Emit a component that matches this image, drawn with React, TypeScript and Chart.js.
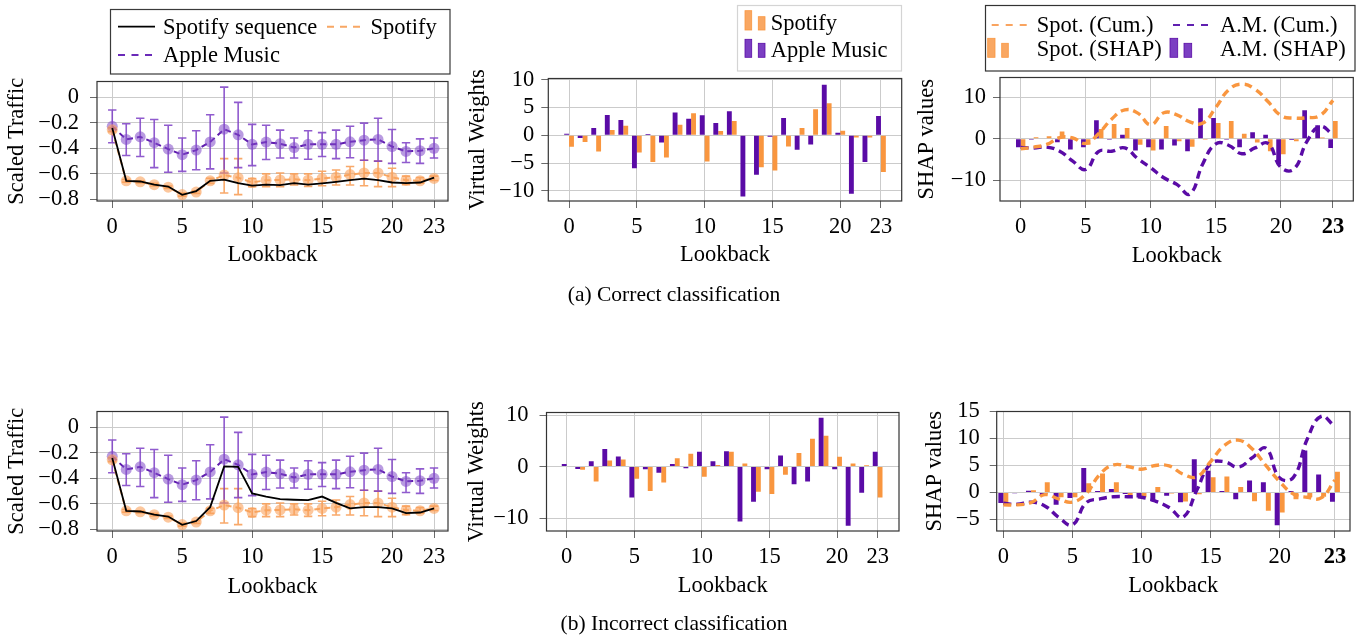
import React, { useEffect, useRef } from 'react';
import { Chart, registerables } from 'chart.js';

Chart.register(...registerables);

const FONT = "'Liberation Serif', 'Times New Roman', Times, serif";
const FS = 22.5;
const LH = FS * 1.2;
Chart.defaults.font.family = FONT;
Chart.defaults.font.size = FS;
Chart.defaults.color = '#000';

// ---------------- data ----------------
const lookback = [0, 1, 2, 3, 4, 5, 6, 7, 8, 9, 10, 11, 12, 13, 14, 15, 16, 17, 18, 19, 20, 21, 22, 23];
const shapIdx = [0, 1, 2, 3, 4, 5, 6, 7, 8, 9, 10, 11, 12, 13, 14, 15, 16, 17, 18, 19, 20, 21, 22, 23, 24];

const xTickPos = [0, 5, 10, 15, 20, 23];
const xTickLabels = ['0', '5', '10', '15', '20', '23'];
const shapXTickPos = [0, 5, 10, 15, 20, 24];
const shapXTickLabels = ['0', '5', '10', '15', '20', '23'];

const trafficTicks = [-0.8, -0.6, -0.4, -0.2, 0];
const vwTicksTop = [-10, -5, 0, 5, 10];
const vwTicksBottom = [-10, 0, 10];
const shapTicksTop = [-10, 0, 10];
const shapTicksBottom = [-5, 0, 5, 10, 15];

// Scaled traffic: class means and error bars
const amMean = [-0.227, -0.33, -0.31, -0.356, -0.406, -0.45, -0.414, -0.35, -0.25, -0.294, -0.369, -0.351, -0.364, -0.394, -0.369, -0.369, -0.369, -0.349, -0.336, -0.33, -0.386, -0.424, -0.419, -0.40];
const amLow = [-0.356, -0.456, -0.464, -0.551, -0.588, -0.581, -0.568, -0.561, -0.593, -0.551, -0.536, -0.488, -0.476, -0.476, -0.486, -0.464, -0.481, -0.474, -0.493, -0.50, -0.518, -0.511, -0.518, -0.476];
const amHigh = [-0.10, -0.207, -0.164, -0.174, -0.219, -0.319, -0.262, -0.137, 0.08, -0.04, -0.212, -0.219, -0.257, -0.319, -0.262, -0.277, -0.257, -0.227, -0.202, -0.164, -0.252, -0.356, -0.326, -0.319];

const spMean = [-0.255, -0.655, -0.663, -0.685, -0.705, -0.763, -0.743, -0.655, -0.61, -0.63, -0.668, -0.65, -0.648, -0.643, -0.65, -0.636, -0.626, -0.606, -0.593, -0.593, -0.626, -0.65, -0.655, -0.636];
const spLow = [-0.27, -0.665, -0.672, -0.695, -0.715, -0.775, -0.753, -0.675, -0.75, -0.763, -0.70, -0.70, -0.70, -0.688, -0.698, -0.693, -0.688, -0.688, -0.693, -0.70, -0.70, -0.686, -0.673, -0.652];
const spHigh = [-0.24, -0.645, -0.654, -0.675, -0.695, -0.751, -0.733, -0.635, -0.481, -0.481, -0.636, -0.60, -0.593, -0.60, -0.60, -0.58, -0.57, -0.543, -0.493, -0.50, -0.556, -0.618, -0.63, -0.618];

const seqCorrect = [-0.24, -0.655, -0.66, -0.685, -0.70, -0.765, -0.735, -0.655, -0.645, -0.673, -0.693, -0.685, -0.688, -0.673, -0.685, -0.675, -0.663, -0.65, -0.638, -0.65, -0.668, -0.673, -0.668, -0.63];
const seqIncorrect = [-0.24, -0.655, -0.66, -0.685, -0.70, -0.765, -0.735, -0.626, -0.307, -0.31, -0.518, -0.543, -0.563, -0.568, -0.571, -0.543, -0.593, -0.636, -0.626, -0.626, -0.636, -0.673, -0.668, -0.636];

// Virtual weights
const vwAMCorrect = [0.3, -0.47, 1.3, 3.65, 2.75, -5.9, 0.25, -1.3, 4.1, 2.95, 3.6, 2.2, 4.3, -11.0, -7.1, -0.25, 3.1, -2.6, -1.65, 9.1, 0.45, -10.5, -4.8, 3.45];
const vwSpCorrect = [-2.05, -1.2, -2.9, 0.95, 1.7, -3.1, -4.8, -4.0, 1.9, 3.95, -4.7, 0.75, 2.55, 0.1, -5.75, -6.3, -2.0, 1.3, 4.7, 5.75, 0.8, -0.4, -0.4, -6.6];
const vwAMIncorrect = [0.5, -0.45, 1.05, 3.4, 1.95, -6.0, -0.5, -1.2, 0.5, -0.3, 2.9, 1.05, 3.0, -10.65, -6.8, -0.5, 2.15, -3.45, -2.9, 9.5, -0.5, -11.5, -5.1, 2.9];
const vwSpIncorrect = [-0.1, -0.6, -2.9, 1.2, 1.4, -2.35, -4.75, -3.1, 1.6, 2.5, -1.95, 0.3, 2.9, 0.6, -4.9, -5.3, -1.6, 2.65, 5.4, 6.0, 1.9, 0.6, 0.25, -6.0];

// SHAP values
const shapAMCorrect = [-2.05, -0.2, 0.15, -0.8, -2.6, -2.05, 4.5, -0.2, 1.0, -2.8, -2.05, -2.6, -1.6, -3.0, 7.4, 5.0, -0.2, -2.05, 1.6, 1.0, -6.1, -0.3, 6.9, 3.3, -2.2];
const shapSpCorrect = [-2.4, 0.4, 0.65, 1.8, -0.2, -1.4, 2.4, 3.6, 2.6, -1.4, -2.8, 3.1, -0.6, -1.9, -0.2, 3.8, 4.3, 1.2, -0.9, -3.0, -3.7, -0.6, 0.2, 0.3, 4.3];
const cumSpCorrect = [-2.4, -2.0, -1.35, 0.3, 0.2, -1.1, 1.3, 4.8, 7.0, 6.2, 3.4, 6.3, 5.8, 4.1, 3.8, 7.6, 11.9, 13.2, 12.0, 9.0, 5.6, 5.0, 5.1, 5.6, 9.3];
const cumAMCorrect = [-2.05, -2.2, -2.0, -3.0, -5.4, -7.4, -3.0, -3.0, -2.2, -4.8, -7.0, -9.4, -11.0, -13.3, -6.0, -1.2, -1.6, -3.6, -2.2, -1.1, -6.9, -7.3, -0.6, 3.0, 1.0];

const shapAMIncorrect = [-1.95, -0.15, 0.3, -0.65, -2.3, -1.05, 4.55, 0.25, 0.65, -0.3, -0.95, -1.45, -0.6, -1.8, 6.15, 4.0, 0.25, -1.25, 2.2, 1.9, -6.1, 0.25, 7.75, 3.3, -1.75];
const shapSpIncorrect = [-2.3, -0.1, 0.4, 1.9, -0.9, -0.9, 1.7, 3.5, 1.9, -0.5, -0.9, 1.0, -0.2, -1.7, -0.35, 2.8, 2.95, 1.0, -1.65, -3.4, -3.7, -1.25, -0.9, -0.8, 3.85];
const cumSpIncorrect = [-2.3, -2.3, -1.9, -0.4, -1.2, -1.8, -0.2, 3.4, 5.1, 4.8, 4.3, 5.0, 4.9, 3.4, 2.9, 5.7, 8.7, 9.7, 8.1, 5.0, 2.0, -0.3, -0.9, -1.0, 2.3];
const cumAMIncorrect = [-2.0, -2.2, -1.8, -2.5, -4.6, -6.0, -1.9, -1.2, -0.8, -0.8, -0.9, -1.6, -2.8, -4.6, 0.4, 5.3, 5.7, 4.7, 6.4, 8.2, 2.7, 2.8, 9.9, 14.1, 12.2];

// ---------------- styles ----------------
const PURPLE = '#5a0ba6';
const ORANGE = '#f9963f';
const GRID = '#cbcbcb';
const TICKC = '#6a6a6a';
const TL = 7;

type G = {
  L: number; T: number; R: number; B: number; yTitleX: number; xTitleY: number; yPad: number;
  cx: number; cy: number; cw: number; ch: number; cr: number; cb: number;
};

function geom(p: { L: number; T: number; R: number; B: number; yTitleX: number; xTitleY: number; yPad: number }): G {
  const cx = Math.max(0, Math.floor(p.yTitleX - 16));
  const cy = Math.floor(p.T - 18);
  const cr = Math.min(1367, Math.ceil(p.R + 12));
  const cb = Math.ceil(p.xTitleY + 16);
  return { ...p, cx, cy, cr, cb, cw: cr - cx, ch: cb - cy };
}

const g1 = geom({ L: 97, T: 75.7, R: 448, B: 201, yTitleX: 16.7, xTitleY: 255, yPad: 11 });
const g2 = geom({ L: 548.3, T: 76.5, R: 901.7, B: 201, yTitleX: 478.3, xTitleY: 255, yPad: 7 });
const g3 = geom({ L: 1000, T: 75.7, R: 1353.3, B: 201, yTitleX: 926.7, xTitleY: 256, yPad: 7 });
const g4 = geom({ L: 97, T: 405.7, R: 448, B: 531, yTitleX: 16.7, xTitleY: 587, yPad: 11 });
const g5 = geom({ L: 546.5, T: 406.7, R: 899, B: 531, yTitleX: 477.5, xTitleY: 586, yPad: 11 });
const g6 = geom({ L: 996.7, T: 406, R: 1350, B: 531, yTitleX: 935, xTitleY: 586, yPad: 10 });

const fmtDec = (v: number) => (v === 0 ? '0' : (v < 0 ? '\u2212' : '') + Math.abs(v).toFixed(1));
const fmtInt = (v: number) => (v < 0 ? '\u2212' : '') + String(Math.abs(Math.round(v)));

function xAxis(g: G, min: number, max: number, pos: number[], labels: string[], boldVal?: number) {
  return {
    type: 'linear', min, max, offset: false,
    grid: { color: GRID, lineWidth: 1, drawTicks: true, tickLength: TL, tickColor: TICKC, offset: false },
    border: { display: false },
    ticks: {
      padding: 6, maxRotation: 0, minRotation: 0, autoSkip: false, color: '#000',
      font: (ctx: any) => ({ family: FONT, size: FS, weight: boldVal !== undefined && ctx.tick && ctx.tick.value === boldVal ? 'bold' : 'normal' }),
      callback: (v: any) => { const i = pos.indexOf(Number(v)); return i >= 0 ? labels[i] : ''; },
    },
    afterBuildTicks: (s: any) => { s.ticks = pos.map((v) => ({ value: v })); },
    afterFit: (s: any) => { s.height = g.cb - g.B; },
    title: { display: true, text: 'Lookback', color: '#000', font: { family: FONT, size: FS }, padding: { top: 0, bottom: g.cb - g.xTitleY - LH / 2 } },
  };
}

function yAxis(g: G, min: number, max: number, ticks: number[], fmt: (v: number) => string, title: string) {
  return {
    type: 'linear', min, max,
    grid: { color: GRID, lineWidth: 1, drawTicks: true, tickLength: TL, tickColor: TICKC },
    border: { display: false },
    ticks: { padding: g.yPad, autoSkip: false, color: '#000', font: { family: FONT, size: FS }, callback: (v: any) => fmt(Number(v)) },
    afterBuildTicks: (s: any) => { s.ticks = ticks.map((v) => ({ value: v })); },
    afterFit: (s: any) => { s.width = g.L - g.cx; },
    title: { display: true, text: title, color: '#000', font: { family: FONT, size: FS }, padding: { top: g.yTitleX - g.cx - LH / 2, bottom: 0 } },
  };
}

const framePlugin = {
  id: 'frame',
  afterDatasetsDraw(chart: any) {
    const { ctx, chartArea: a } = chart;
    ctx.save();
    ctx.strokeStyle = '#333';
    ctx.lineWidth = 1.2;
    ctx.strokeRect(a.left, a.top, a.right - a.left, a.bottom - a.top);
    ctx.restore();
  },
};

function errorBars(specs: { xs: number[]; low: number[]; high: number[]; color: string }[]) {
  return {
    id: 'errorBars',
    beforeDatasetsDraw(chart: any) {
      const { ctx, scales } = chart;
      const xs = scales.x, ys = scales.y;
      ctx.save();
      ctx.lineWidth = 1.6;
      for (const s of specs) {
        ctx.strokeStyle = s.color;
        s.xs.forEach((xv, i) => {
          const px = xs.getPixelForValue(xv);
          const p1 = ys.getPixelForValue(s.low[i]);
          const p2 = ys.getPixelForValue(s.high[i]);
          ctx.beginPath();
          ctx.moveTo(px, p1); ctx.lineTo(px, p2);
          ctx.moveTo(px - 4.2, p1); ctx.lineTo(px + 4.2, p1);
          ctx.moveTo(px - 4.2, p2); ctx.lineTo(px + 4.2, p2);
          ctx.stroke();
        });
      }
      ctx.restore();
    },
  };
}

function baseOptions(g: G, scales: any) {
  return {
    responsive: false,
    animation: false,
    events: [],
    plugins: { legend: { display: false }, tooltip: { enabled: false }, title: { display: false } },
    layout: { padding: { left: 0, top: g.T - g.cy, right: g.cr - g.R, bottom: 0 } },
    scales,
  };
}

function trafficConfig(g: G, seq: number[]): any {
  return {
    type: 'line',
    data: {
      labels: lookback,
      datasets: [
        { data: seq, borderColor: '#000', borderWidth: 1.8, pointRadius: 0, fill: false, tension: 0 },
        { data: spMean, borderColor: '#f7a660', borderWidth: 2, borderDash: [6, 4], pointRadius: 5.5, pointBackgroundColor: 'rgba(250,162,92,0.6)', pointBorderWidth: 0, fill: false },
        { data: amMean, borderColor: '#5f1cae', borderWidth: 2, borderDash: [6, 4], pointRadius: 5.5, pointBackgroundColor: 'rgba(128,72,200,0.55)', pointBorderWidth: 0, fill: false },
      ],
    },
    options: baseOptions(g, {
      x: xAxis(g, -1.09, 24.0, xTickPos, xTickLabels),
      y: yAxis(g, -0.813, 0.124, trafficTicks, fmtDec, 'Scaled Traffic'),
    }),
    plugins: [
      framePlugin,
      errorBars([
        { xs: lookback, low: spLow, high: spHigh, color: 'rgba(247,160,90,0.9)' },
        { xs: lookback, low: amLow, high: amHigh, color: 'rgba(125,62,198,0.85)' },
      ]),
    ],
  };
}

function weightsConfig(g: G, am: number[], sp: number[], xmin: number, xmax: number, ymin: number, ymax: number, yt: number[]): any {
  return {
    type: 'bar',
    data: {
      labels: lookback,
      datasets: [
        { label: 'Apple Music', data: am, backgroundColor: PURPLE, borderWidth: 0, categoryPercentage: 0.72, barPercentage: 1 },
        { label: 'Spotify', data: sp, backgroundColor: ORANGE, borderWidth: 0, categoryPercentage: 0.72, barPercentage: 1 },
      ],
    },
    options: baseOptions(g, {
      x: xAxis(g, xmin, xmax, xTickPos, xTickLabels),
      y: yAxis(g, ymin, ymax, yt, fmtInt, 'Virtual Weights'),
    }),
    plugins: [framePlugin],
  };
}

function shapConfig(g: G, am: number[], sp: number[], cumAm: number[], cumSp: number[], xmin: number, xmax: number, ymin: number, ymax: number, yt: number[]): any {
  return {
    type: 'bar',
    data: {
      labels: shapIdx,
      datasets: [
        { type: 'line', label: 'Spot. (Cum.)', data: cumSp, borderColor: ORANGE, borderWidth: 3.4, borderDash: [8, 5], pointRadius: 0, tension: 0.45, fill: false },
        { type: 'line', label: 'A.M. (Cum.)', data: cumAm, borderColor: PURPLE, borderWidth: 3.4, borderDash: [8, 5], pointRadius: 0, tension: 0.45, fill: false },
        { label: 'A.M. (SHAP)', data: am, backgroundColor: PURPLE, borderWidth: 0, categoryPercentage: 0.72, barPercentage: 1 },
        { label: 'Spot. (SHAP)', data: sp, backgroundColor: ORANGE, borderWidth: 0, categoryPercentage: 0.72, barPercentage: 1 },
      ],
    },
    options: baseOptions(g, {
      x: xAxis(g, xmin, xmax, shapXTickPos, shapXTickLabels, 24),
      y: yAxis(g, ymin, ymax, yt, fmtInt, 'SHAP values'),
    }),
    plugins: [framePlugin],
  };
}

function ChartCanvas({ g, make }: { g: G; make: () => any }) {
  const ref = useRef<HTMLCanvasElement>(null);
  useEffect(() => {
    const chart = new Chart(ref.current as HTMLCanvasElement, make());
    return () => chart.destroy();
  }, []);
  return (
    <canvas
      ref={ref}
      width={g.cw}
      height={g.ch}
      style={{ position: 'absolute', left: g.cx, top: g.cy, width: g.cw, height: g.ch }}
    />
  );
}

const T: any = { fontFamily: FONT, fontSize: FS, fill: '#000' };

function Overlay() {
  return (
    <svg width={1367} height={637} style={{ position: 'absolute', left: 0, top: 0, pointerEvents: 'none' }}>
      {/* legend 1 */}
      <rect x={110.5} y={9.5} width={339.5} height={64.5} fill="#fff" stroke="#3a3a3a" strokeWidth={1.2} />
      <line x1={118} y1={26.7} x2={155} y2={26.7} stroke="#000" strokeWidth={1.8} />
      <text x={163} y={33.5} {...T}>Spotify sequence</text>
      <line x1={327} y1={26.7} x2={360} y2={26.7} stroke="#f8a764" strokeWidth={2} strokeDasharray="7 6" />
      <text x={370.5} y={33.5} {...T}>Spotify</text>
      <line x1={118} y1={55} x2={153} y2={55} stroke="#6a2ab8" strokeWidth={2} strokeDasharray="7 6.5" />
      <text x={163} y={61.7} {...T}>Apple Music</text>

      {/* legend 2 */}
      <rect x={737.5} y={5.5} width={164} height={65.5} fill="#fff" stroke="#d4d4d4" strokeWidth={1.2} />
      <rect x={745} y={10.7} width={6.7} height={19.3} fill="#f9a762" stroke={ORANGE} strokeWidth={0.8} />
      <rect x={758.3} y={16.7} width={6.7} height={13.3} fill="#f9a762" stroke={ORANGE} strokeWidth={0.8} />
      <text x={770.7} y={30} {...T}>Spotify</text>
      <rect x={745} y={39.3} width={6.7} height={18} fill="#7b3fc2" stroke={PURPLE} strokeWidth={0.8} />
      <rect x={758.3} y={43.3} width={6.7} height={14} fill="#7b3fc2" stroke={PURPLE} strokeWidth={0.8} />
      <text x={770.7} y={57.3} {...T}>Apple Music</text>

      {/* legend 3 */}
      <rect x={985.5} y={5.5} width={369.5} height={65.5} fill="#fff" stroke="#333" strokeWidth={1.2} />
      <line x1={991.7} y1={25} x2={1026.7} y2={25} stroke="#f9a460" strokeWidth={2} strokeDasharray="7 7" />
      <text x={1036.7} y={31.7} {...T}>Spot. (Cum.)</text>
      <line x1={1173} y1={25} x2={1208} y2={25} stroke="#6020b0" strokeWidth={2} strokeDasharray="7 7" />
      <text x={1220} y={31.7} {...T}>A.M. (Cum.)</text>
      <rect x={987.7} y={38.3} width={7.3} height={19} fill="#f9a762" stroke={ORANGE} strokeWidth={0.8} />
      <rect x={1001.7} y={43.3} width={6.6} height={14} fill="#f9a762" stroke={ORANGE} strokeWidth={0.8} />
      <text x={1036.7} y={55.5} {...T}>Spot. (SHAP)</text>
      <rect x={1170} y={38.3} width={7.7} height={19} fill="#7b3fc2" stroke={PURPLE} strokeWidth={0.8} />
      <rect x={1184} y={43.3} width={7.7} height={14} fill="#7b3fc2" stroke={PURPLE} strokeWidth={0.8} />
      <text x={1220} y={55.5} {...T}>A.M. (SHAP)</text>

      {/* captions */}
      <text x={674} y={301} textAnchor="middle" fontFamily={FONT} fontSize={21.5} fill="#000">(a) Correct classification</text>
      <text x={674} y={630} textAnchor="middle" fontFamily={FONT} fontSize={21.5} fill="#000">(b) Incorrect classification</text>
    </svg>
  );
}

export default function App() {
  return (
    <div style={{ position: 'absolute', left: 0, top: 0, width: 1367, height: 637, background: '#fff', overflow: 'hidden' }}>
      <ChartCanvas g={g1} make={() => trafficConfig(g1, seqCorrect)} />
      <ChartCanvas g={g2} make={() => weightsConfig(g2, vwAMCorrect, vwSpCorrect, -1.53, 24.53, -11.8, 10.2, vwTicksTop)} />
      <ChartCanvas g={g3} make={() => shapConfig(g3, shapAMCorrect, shapSpCorrect, cumAMCorrect, cumSpCorrect, -1.59, 25.56, -15.0, 14.8, shapTicksTop)} />
      <ChartCanvas g={g4} make={() => trafficConfig(g4, seqIncorrect)} />
      <ChartCanvas g={g5} make={() => weightsConfig(g5, vwAMIncorrect, vwSpIncorrect, -1.49, 24.58, -12.5, 10.5, vwTicksBottom)} />
      <ChartCanvas g={g6} make={() => shapConfig(g6, shapAMIncorrect, shapSpIncorrect, cumAMIncorrect, cumSpIncorrect, -0.48, 25.09, -7.15, 15.0, shapTicksBottom)} />
      <Overlay />
    </div>
  );
}
